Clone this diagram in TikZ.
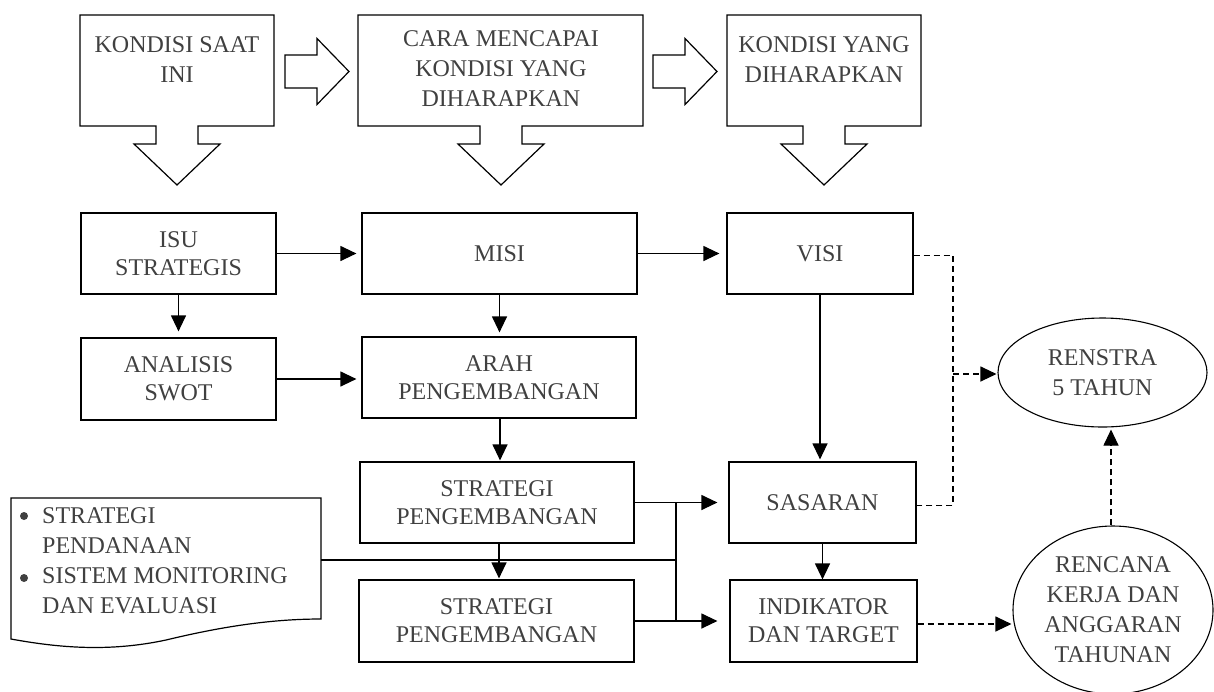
\documentclass[tikz,border=0pt]{standalone}
\usepackage{fontspec}
\setmainfont{Liberation Serif}
\usetikzlibrary{arrows.meta,shapes.geometric}
\definecolor{txt}{HTML}{404040}

\begin{document}
\begin{tikzpicture}[x=1pt,y=-1pt,
  every node/.style={font=\fontsize{24}{28}\selectfont, text=txt},
  box/.style={draw, line width=1.2pt, rectangle, inner sep=0pt, align=center},
  ell/.style={draw, line width=1.1pt, ellipse, inner sep=0pt, align=center},
  label/.style={inner sep=0pt, align=center, anchor=north, font=\fontsize{24}{30}\selectfont},
  link/.style={line width=1.2pt},
  tip/.style={-{Triangle[length=16pt,width=15pt]}},
  arr/.style={link, tip},
  dlink/.style={line width=1.1pt, dash pattern=on 6pt off 4pt},
  darr/.style={dlink, tip},
  fat/.style={draw, line width=1.2pt, line join=miter},
  fatright/.pic={\draw[fat] (0,-16.5) -- (32,-16.5) -- (32,-33) -- (64,0) -- (32,33) -- (32,16.5) -- (0,16.5) -- cycle;}
]
\useasboundingbox (0,0) rectangle (1214,691);

% ---- top row: callout boxes with downward block arrows ----
\draw[fat] (80,15) -- (274,15) -- (274,126) -- (198,126) -- (198,144) -- (220,144)
  -- (177,185) -- (134,144) -- (156,144) -- (156,126) -- (80,126) -- cycle;
\node[label] (kini) at (177,36.5) {KONDISI SAAT\\INI};

\draw[fat] (358,15) -- (643,15) -- (643,126) -- (522,126) -- (522,144) -- (544,144)
  -- (501,185) -- (458,144) -- (480,144) -- (480,126) -- (358,126) -- cycle;
\node[label] (cara) at (501,30.5) {CARA MENCAPAI\\KONDISI YANG\\DIHARAPKAN};

\draw[fat] (727,15) -- (921,15) -- (921,126) -- (845,126) -- (845,144) -- (867,144)
  -- (824,185) -- (781,144) -- (803,144) -- (803,126) -- (727,126) -- cycle;
\node[label] (harap) at (824,36.5) {KONDISI YANG\\DIHARAPKAN};

\pic at (285,71.5) {fatright};
\pic at (653,71.5) {fatright};

% ---- flow boxes ----
\node[box, minimum width=195pt, minimum height=81pt] (isu) at (178.5,253.5) {ISU\\STRATEGIS};
\node[box, minimum width=195pt, minimum height=82pt] (swot) at (178.5,379) {ANALISIS\\SWOT};
\node[box, minimum width=275pt, minimum height=81pt] (misi) at (499.5,253.5) {MISI};
\node[box, minimum width=274pt, minimum height=81pt] (arah) at (499,377.5) {ARAH\\PENGEMBANGAN};
\node[box, minimum width=274pt, minimum height=81pt] (sp1) at (497,502.5) {STRATEGI\\PENGEMBANGAN};
\node[box, minimum width=275pt, minimum height=82pt] (sp2) at (496.5,621) {STRATEGI\\PENGEMBANGAN};
\node[box, minimum width=186pt, minimum height=81pt] (visi) at (820,253.5) {VISI};
\node[box, minimum width=187pt, minimum height=81pt] (sasaran) at (822.5,502.5) {SASARAN};
\node[box, minimum width=187pt, minimum height=82pt] (indikator) at (823.5,621) {INDIKATOR\\DAN TARGET};

% ---- ellipses ----
\node[ell, minimum width=209pt, minimum height=109pt, font=\fontsize{24}{30}\selectfont] (renstra) at (1102.5,372.5) {RENSTRA\\5 TAHUN};
\node[ell, minimum width=200pt, minimum height=168pt, font=\fontsize{24}{30}\selectfont] (rencana) at (1113,610) {RENCANA\\KERJA DAN\\ANGGARAN\\TAHUNAN};

% ---- document shape with bulleted list ----
\draw[fat] (11,498) -- (321,498) -- (321,619)
  .. controls (270,619) and (220,627) .. (166,640)
  .. controls (110,652) and (60,648) .. (11,639) -- cycle;
\node[inner sep=0pt, anchor=north west, align=left, font=\fontsize{24}{30}\selectfont] (doc) at (42,507)
  {STRATEGI\\PENDANAAN\\SISTEM MONITORING\\DAN EVALUASI};
\fill[txt] (24,516) circle (4pt);
\fill[txt] (24,578) circle (4pt);
\coordinate (docR) at (321,560);

% ---- connectors ----
\draw[arr, shorten >=5pt] (isu.east) -- (misi.west);
\draw[arr, shorten >=7pt] (misi.east) -- (visi.west);
\draw[arr, shorten >=6pt] (isu.south) -- (isu.south |- swot.north);
\draw[arr, shorten >=5pt] (swot.east) -- (swot.east -| arah.west);
\draw[arr, shorten >=4pt] (misi.south) -- (misi.south |- arah.north);
\draw[arr, shorten >=1pt] ([xshift=1pt]arah.south) -- ([xshift=1pt]arah.south |- sp1.north);
\draw[arr, shorten >=1pt] ([xshift=2pt]sp1.south) -- ([xshift=2pt]sp1.south |- sp2.north);
\draw[arr, shorten >=2pt] (visi.south) -- (visi.south |- sasaran.north);
\draw[arr] (sasaran.south) -- (sasaran.south |- indikator.north);

\coordinate (sj) at (676,560);
\draw[arr, shorten >=11pt] (sp1.east) -- (sasaran.west);
\draw[arr, shorten >=12pt] (sp2.east) -- (sp2.east -| indikator.west);
\draw[link] (sp1.east -| sj) -- (sp2.east -| sj);
\draw[link] (docR) -- (sj);

% ---- dashed links to the planning documents ----
\coordinate (dj) at (953,374);
\draw[dlink] ([yshift=-2pt]visi.east) -| (dj) |- ([yshift=-3pt]sasaran.east);
\draw[darr, shorten >=1pt] (dj) -- (dj -| renstra.west);
\draw[darr, shorten >=2pt] ([xshift=-2pt]rencana.north) -- ([xshift=-2pt]rencana.north |- renstra.south);
\draw[darr, shorten >=1pt] ([yshift=-3pt]indikator.east) -- ([yshift=-3pt]indikator.east -| rencana.west);
\end{tikzpicture}
\end{document}
